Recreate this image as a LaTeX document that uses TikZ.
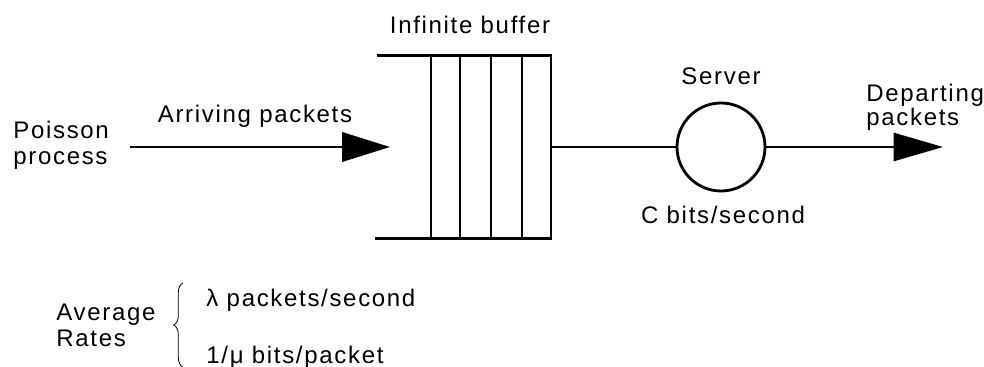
\documentclass[tikz,border=0pt]{standalone}
\usepackage{fontspec}
\setmainfont{Liberation Sans}[LetterSpace=7]
\usetikzlibrary{arrows.meta,decorations.pathreplacing}

\begin{document}
\begin{tikzpicture}[x=0.75pt,y=-0.75pt,line width=2.1pt,
        lbl/.style={font=\fontsize{18}{19.5}\selectfont,inner sep=0pt},
        bigtip/.style={-{Triangle[length=36pt,width=22pt]}}]
            \useasboundingbox (0,0) rectangle (984,367);
            % queue
            \node[draw,minimum width=90pt,minimum height=137pt,inner sep=0pt,outer sep=0pt] (buf) at (491,147) {};
            \foreach \x in {460,491,522}
                \draw (\x,55.5) -- (\x,238.5);
            \coordinate (topend) at ([xshift=-40.5pt]buf.north west);
            \coordinate (botend) at ([xshift=-42pt]buf.south west);
            \draw (topend) -- (buf.north west);
            \draw (botend) -- (buf.south west);
            \node[draw,circle,minimum size=66pt,inner sep=0pt] (srv) at (721,147) {};
            \draw (buf.east) -- (srv.west);
            % arrows
            \coordinate (arrstart) at (130,147);
            \coordinate (arrend) at (390,147);
            \coordinate (depend) at (943,147);
            \draw[bigtip] (arrstart) -- (arrend);
            \draw[-{Triangle[length=37pt,width=21pt]}] (srv.east) -- (depend);
            % labels
            \node[lbl] (buflbl) at (470,25) {Infinite buffer};
            \node[lbl] (srvlbl) at (721,76) {Server};
            \node[lbl] (rate) at (723,215) {C bits/second};
            \node[lbl,align=left,anchor=west,font=\fontsize{18}{15}\selectfont] (dep) at (865,107) {Departing\\packets};
            \node[lbl,align=left,anchor=west] (src) at (12,145) {Poisson\\process};
            \node[lbl] (arr) at (255,116) {Arriving packets};
            % average rates
            \node[lbl,align=left,anchor=west] (avg) at (55,325) {Average\\Rates};
            \draw[line width=0.6pt,decorate,decoration={brace,amplitude=7pt}] (183,367) -- (183,283);
            \node[lbl,anchor=west] (lam) at (205,300) {λ packets/second};
            \node[lbl,anchor=west] (mu) at (205,357) {1/μ bits/packet};
        \end{tikzpicture}
\end{document}
